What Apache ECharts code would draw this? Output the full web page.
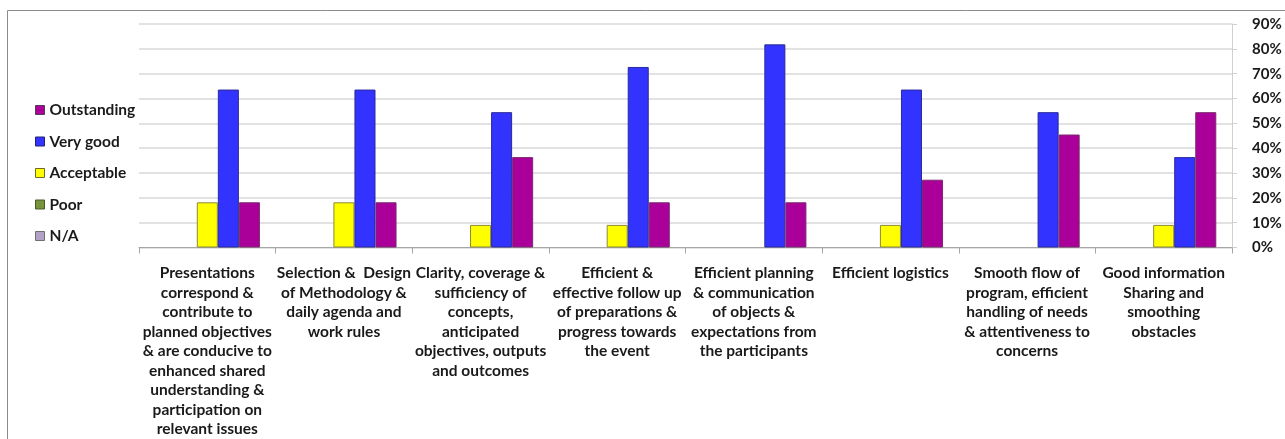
<!DOCTYPE html>
<html>
<head>
<meta charset="utf-8">
<script src="https://cdn.jsdelivr.net/npm/echarts@6/dist/echarts.min.js"></script>
<style>
html,body{margin:0;padding:0;background:#fff;}
#c{width:1285px;height:439px;}
</style>
</head>
<body>
<div id="c"></div>
<script>
const categories = [
  "Presentations\ncorrespond &\ncontribute to\nplanned objectives\n& are conducive to\nenhanced shared\nunderstanding &\nparticipation on\nrelevant issues",
  "Selection &  Design\nof Methodology &\ndaily agenda and\nwork rules",
  "Clarity, coverage &\nsufficiency of\nconcepts,\nanticipated\nobjectives, outputs\nand outcomes",
  "Efficient &\neffective follow up\nof preparations &\nprogress towards\nthe event",
  "Efficient planning\n& communication\nof objects &\nexpectations from\nthe participants",
  "Efficient logistics",
  "Smooth flow of\nprogram, efficient\nhandling of needs\n& attentiveness to\nconcerns",
  "Good information\nSharing and\nsmoothing\nobstacles"
];
const naValues          = [0, 0, 0, 0, 0, 0, 0, 0];
const poorValues        = [0, 0, 0, 0, 0, 0, 0, 0];
const acceptableValues  = [0.182, 0.182, 0.091, 0.091, 0, 0.091, 0, 0.091];
const veryGoodValues    = [0.636, 0.636, 0.545, 0.727, 0.818, 0.636, 0.545, 0.364];
const outstandingValues = [0.182, 0.182, 0.364, 0.182, 0.182, 0.273, 0.455, 0.545];
const yTicks = { min: 0, max: 0.9, interval: 0.1 };

const FONT = 'Lato';
const chart = echarts.init(document.getElementById('c'), null, {renderer: 'canvas'});

function bar(name, data, color, border) {
  return {
    name: name, type: 'bar',
    // zero values are not drawn (no flat outline), as in the original
    data: data.map(v => v === 0 ? null : v),
    barGap: '0%', barCategoryGap: '23%',
    itemStyle: {color: color, borderColor: border, borderWidth: 1},
    emphasis: {disabled: true}
  };
}

chart.setOption({
  animation: false,
  backgroundColor: '#ffffff',
  graphic: [{
    type: 'rect', silent: true,
    shape: {x: 7.5, y: 10.5, width: 1300, height: 460},
    style: {fill: 'none', stroke: '#8c8c8c', lineWidth: 1}
  }],
  legend: {
    orient: 'vertical', left: 30, top: 97,
    itemWidth: 9, itemHeight: 9, itemGap: 15.5,
    icon: 'rect',
    data: [
      {name: 'Outstanding', itemStyle: {color: '#AA0099', borderColor: '#5a3a5a', borderWidth: 1}},
      {name: 'Very good', itemStyle: {color: '#3333FF', borderColor: '#222277', borderWidth: 1}},
      {name: 'Acceptable', itemStyle: {color: '#FFFF00', borderColor: '#6b6b20', borderWidth: 1}},
      {name: 'Poor', itemStyle: {color: '#77933C', borderColor: '#4b5a2a', borderWidth: 1}},
      {name: 'N/A', itemStyle: {color: '#B3A2C7', borderColor: '#6f6f6f', borderWidth: 1}}
    ],
    textStyle: {fontFamily: FONT, fontWeight: 'bold', fontSize: 15.5, color: '#1a1a1a', lineHeight: 16}
  },
  grid: {left: 139, right: 53, top: 24, bottom: 187, containLabel: false},
  xAxis: {
    type: 'category', data: categories,
    axisLine: {lineStyle: {color: '#a6a6a6', width: 1}},
    axisTick: {show: true, length: 6, lineStyle: {color: '#a6a6a6'}},
    axisLabel: {interval: 0, margin: 16, fontFamily: FONT, fontWeight: 'bold', fontSize: 15.5, lineHeight: 19.5, color: '#1a1a1a', align: 'center'}
  },
  yAxis: {
    type: 'value', position: 'right',
    min: yTicks.min, max: yTicks.max, interval: yTicks.interval,
    axisLine: {show: true, lineStyle: {color: '#d0d0d0', width: 1}},
    axisTick: {show: true, length: 5, lineStyle: {color: '#d0d0d0'}},
    splitLine: {show: true, lineStyle: {color: '#d9d9d9', width: 1.5}},
    axisLabel: {
      margin: 20, fontFamily: FONT, fontWeight: 'bold', fontSize: 15, color: '#1a1a1a',
      formatter: v => Math.round(v * 100) + '%'
    }
  },
  series: [
    bar('N/A', naValues, '#B3A2C7', '#6f6f6f'),
    bar('Poor', poorValues, '#77933C', '#4b5a2a'),
    bar('Acceptable', acceptableValues, '#FFFF00', '#8a8a3a'),
    bar('Very good', veryGoodValues, '#3333FF', '#2a2a99'),
    bar('Outstanding', outstandingValues, '#AA0099', '#7a2a70')
  ]
});
</script>
</body>
</html>
